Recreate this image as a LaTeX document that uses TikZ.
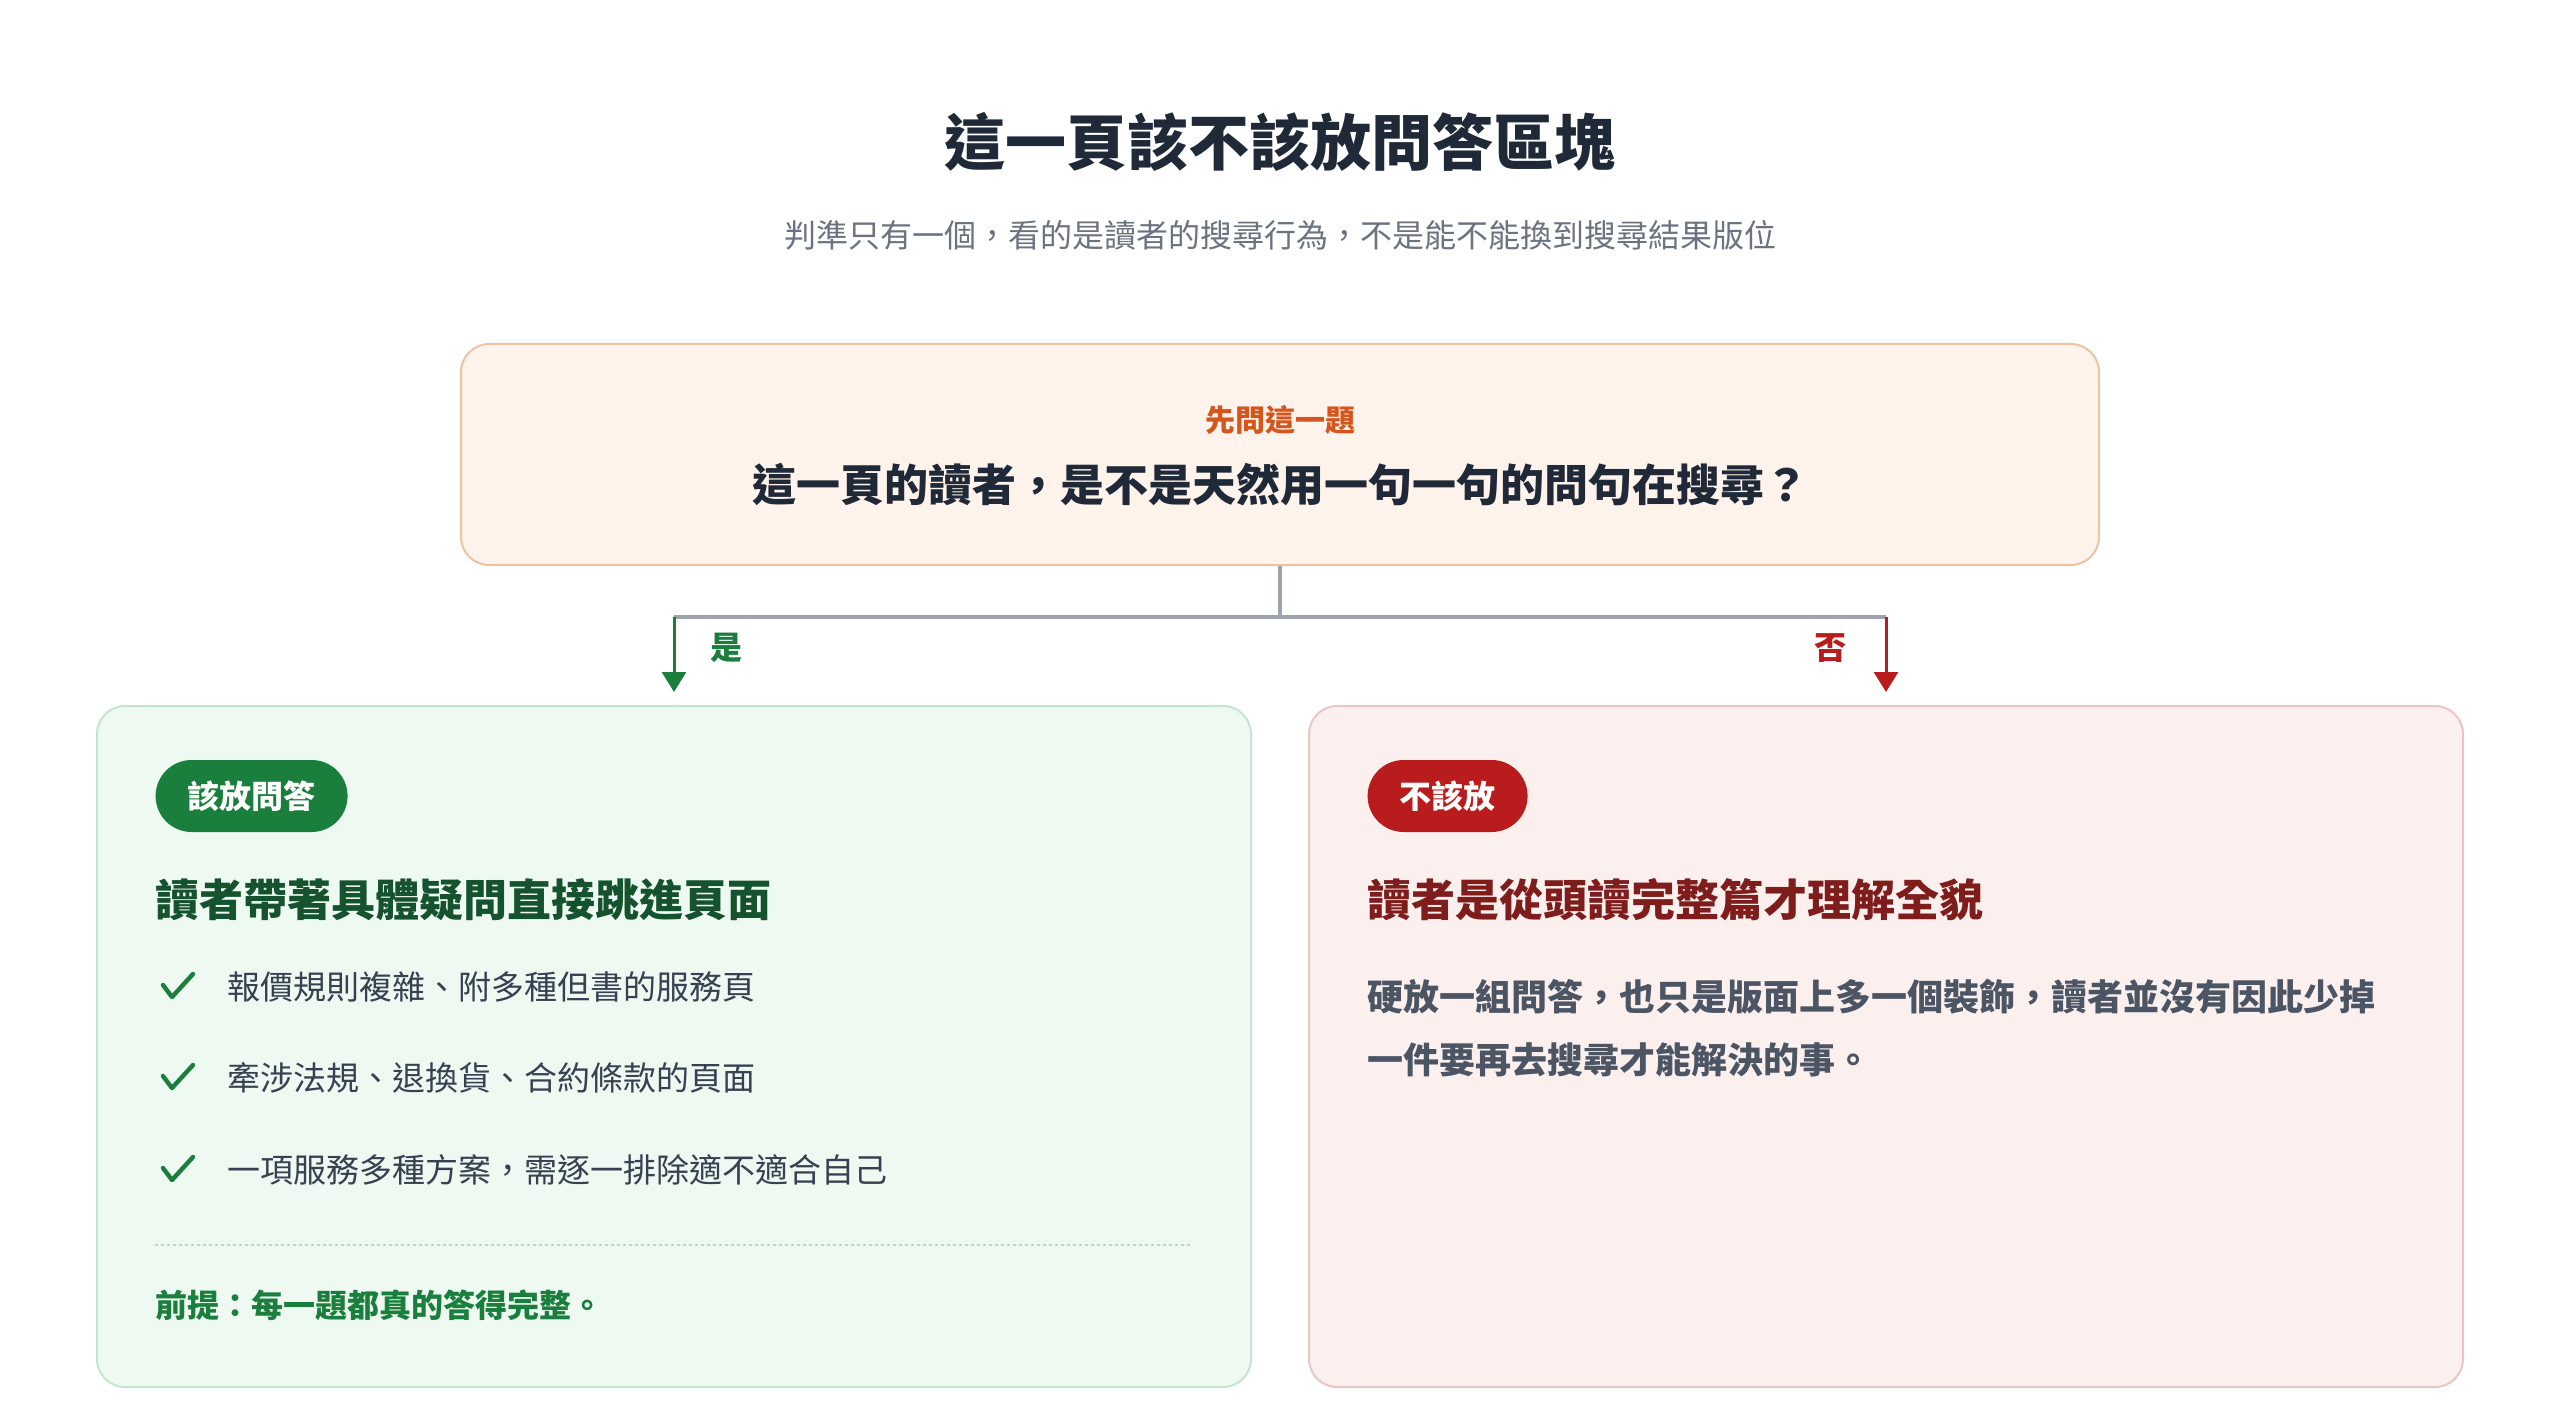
\documentclass[tikz,border=0pt]{standalone}
\usepackage{fontspec}
\setmainfont{Noto Sans CJK TC}
\usepackage{tikz}
\usetikzlibrary{shapes, calc, arrows.meta, positioning}

\definecolor{ink}{HTML}{1F2937}
\definecolor{muted}{HTML}{6B7280}
\definecolor{body}{HTML}{374151}
\definecolor{bodyR}{HTML}{4B5563}
\definecolor{rust}{HTML}{D4561C}
\definecolor{askfill}{HTML}{FFF3EC}
\definecolor{askline}{HTML}{EFC2A6}
\definecolor{wire}{HTML}{9CA3AF}
\definecolor{yesgreen}{HTML}{1A7F3C}
\definecolor{yesdark}{HTML}{14532D}
\definecolor{yesfill}{HTML}{EEF9F2}
\definecolor{yesline}{HTML}{C3E5CF}
\definecolor{yesdot}{HTML}{B5DCC3}
\definecolor{nored}{HTML}{B91C1C}
\definecolor{nodark}{HTML}{7F1D1D}
\definecolor{nofill}{HTML}{FCF0EF}
\definecolor{noline}{HTML}{E8C6C6}

\begin{document}
\begin{tikzpicture}[x=0.5pt,y=-0.5pt,>={Triangle[length=10pt,width=12pt]},semithick]
	\tikzset{card/.style={rectangle, rounded corners=14pt, line width=1pt, minimum width=577pt, minimum height=340.5pt},
		pill/.style={rectangle, rounded corners=18pt, minimum height=36pt, inner xsep=16pt, text=white, font=\fontsize{16pt}{16pt}\selectfont\bfseries},
		heading/.style={anchor=west, inner sep=0pt, font=\fontsize{22pt}{22pt}\selectfont\bfseries},
		item/.style={anchor=west, inner sep=0pt, text=body, font=\fontsize{16.5pt}{16.5pt}\selectfont},
		checkmark/.style={yesgreen, line width=2.2pt, line cap=round, line join=round},
		para/.style={anchor=west, inner sep=0pt, text=bodyR, font=\fontsize{18pt}{18pt}\selectfont\bfseries}}
	\useasboundingbox (0,0) rectangle (2560,1412);

	\node[text=ink, font=\fontsize{30.5pt}{30.5pt}\selectfont\bfseries] (title) at (1280,142) {這一頁該不該放問答區塊};
	\node[text=muted, font=\fontsize{16pt}{16pt}\selectfont] (subtitle) at (1280,235) {判準只有一個，看的是讀者的搜尋行為，不是能不能換到搜尋結果版位};

	% the question
	\node[rectangle, rounded corners=14pt, line width=1pt, draw=askline, fill=askfill, minimum width=819pt, minimum height=110.5pt] (ask) at (1280,454.5) {};
	\node[text=rust, font=\fontsize{15pt}{15pt}\selectfont\bfseries] (kicker) at (1280,420) {先問這一題};
	\node[text=ink, font=\fontsize{22pt}{22pt}\selectfont\bfseries] (question) at (1280,485) {這一頁的讀者，是不是天然用一句一句的問句在搜尋？};

	% the two answers
	\node[card, draw=yesline, fill=yesfill] (yes) at (674,1046.5) {};
	\node[card, draw=noline, fill=nofill] (no) at (1886,1046.5) {};

	\coordinate (fork) at (1280,617);
	\coordinate (yesturn) at (yes.north |- fork);
	\coordinate (noturn) at (no.north |- fork);
	\coordinate (yestip) at ([yshift=6.5pt]yes.north);
	\coordinate (notip) at ([yshift=6.5pt]no.north);

	\draw[wire, line width=2pt] (ask.south) -- (fork);
	\draw[wire, line width=2pt] (yesturn) -- (noturn);
	\draw[->, yesgreen, line width=1.5pt] (yesturn) -- (yestip);
	\draw[->, nored, line width=1.5pt] (noturn) -- (notip);
	\node[text=yesgreen, font=\fontsize{16pt}{16pt}\selectfont\bfseries] (yeslabel) at (726,648) {是};
	\node[text=nored, font=\fontsize{16pt}{16pt}\selectfont\bfseries] (nolabel) at (1830,648) {否};

	% left card
	\node[pill, fill=yesgreen, anchor=west] (yesbadge) at (155,796) {該放問答};
	\node[heading, text=yesdark] (yeshead) at (155,900) {讀者帶著具體疑問直接跳進頁面};
	\coordinate (tick1) at (178,987);
	\coordinate (tick2) at (178,1078);
	\coordinate (tick3) at (178,1170);
	\draw[checkmark] ($(tick1)+(-15,-2)$) -- ++(9,12) -- ++(21,-23);
	\draw[checkmark] ($(tick2)+(-15,-2)$) -- ++(9,12) -- ++(21,-23);
	\draw[checkmark] ($(tick3)+(-15,-2)$) -- ++(9,12) -- ++(21,-23);
	\node[item] (item1) at (227,987) {報價規則複雜、附多種但書的服務頁};
	\node[item] (item2) at (227,1078) {牽涉法規、退換貨、合約條款的頁面};
	\node[item] (item3) at (227,1170) {一項服務多種方案，需逐一排除適不適合自己};
	\coordinate (ruleL) at (155,1245);
	\coordinate (ruleR) at (1193,1245);
	\draw[yesdot, line width=1pt, dash pattern=on 1.5pt off 1.5pt] (ruleL) -- (ruleR);
	\node[anchor=west, inner sep=0pt, text=yesgreen, font=\fontsize{16pt}{16pt}\selectfont\bfseries] (premise) at (155,1305) {前提：每一題都真的答得完整。};

	% right card
	\node[pill, fill=nored, anchor=west] (nobadge) at (1367,796) {不該放};
	\node[heading, text=nodark] (nohead) at (1367,900) {讀者是從頭讀完整篇才理解全貌};
	\node[para] (para1) at (1367,997) {硬放一組問答，也只是版面上多一個裝飾，讀者並沒有因此少掉};
	\node[para] (para2) at (1367,1060) {一件要再去搜尋才能解決的事。};
\end{tikzpicture}
\end{document}
